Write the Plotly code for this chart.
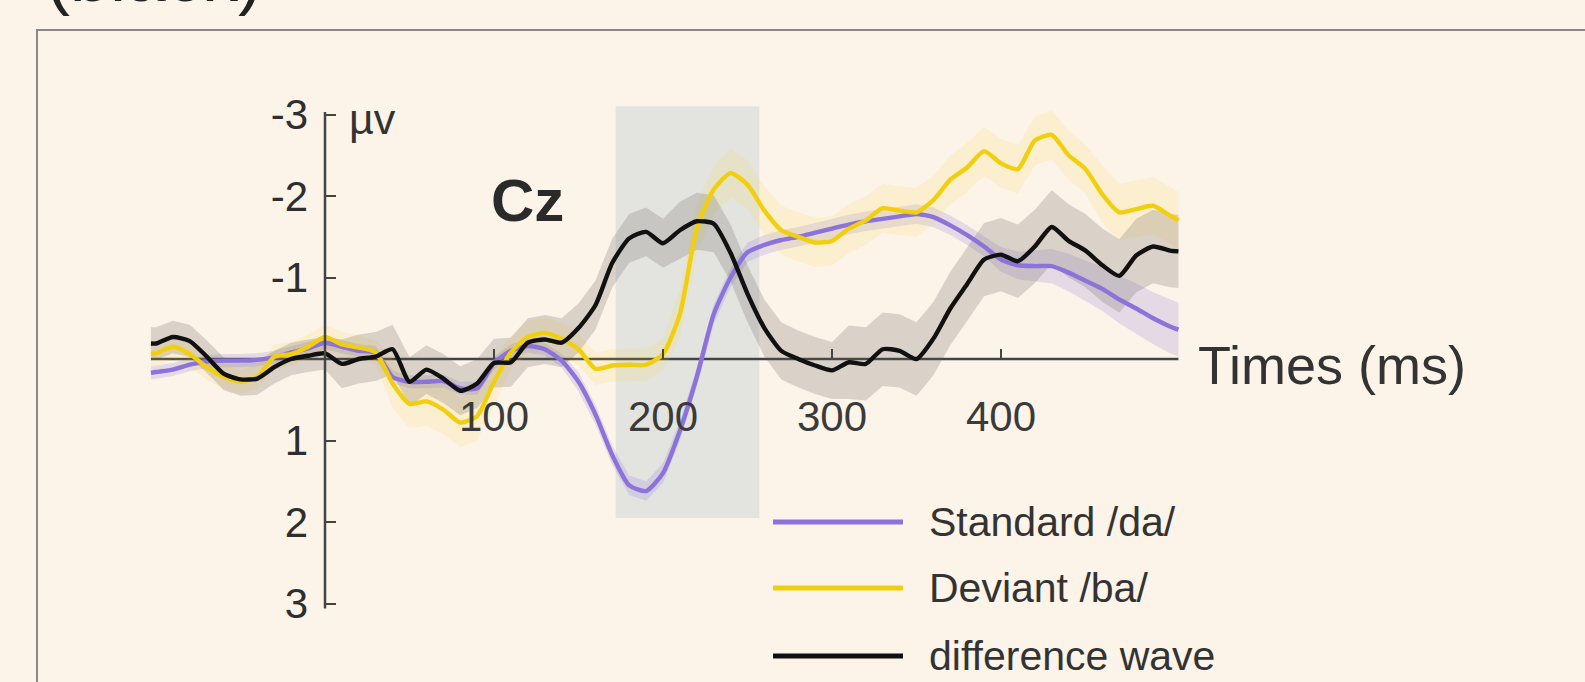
import plotly.graph_objects as go

# ---------------- data ----------------
times = [-103] + list(range(-100, 501, 10)) + [505]  # ms

standard = [0.17,
            0.16, 0.13, 0.07, 0.03, 0.02, 0.02, 0.01, -0.02, -0.08, -0.13,
            -0.20, -0.15, -0.10, -0.08, 0.22, 0.28, 0.28, 0.27, 0.36, 0.36,
            0.05, -0.10, -0.16, -0.12, 0.02, 0.28, 0.68, 1.18, 1.55, 1.62,
            1.40, 0.88, 0.22, -0.55, -1.00, -1.31, -1.40, -1.46, -1.50, -1.55,
            -1.60, -1.65, -1.69, -1.72, -1.75, -1.78, -1.74, -1.64, -1.52, -1.38,
            -1.22, -1.15, -1.14, -1.14, -1.06, -0.96, -0.86, -0.73, -0.62, -0.50,
            -0.40,
            -0.36]

deviant = [-0.06,
           -0.07, -0.15, -0.06, 0.10, 0.22, 0.28, 0.22, -0.03, -0.06, -0.15,
           -0.27, -0.18, -0.14, -0.08, 0.30, 0.55, 0.52, 0.62, 0.78, 0.70,
           0.28, -0.08, -0.27, -0.32, -0.25, -0.12, 0.12, 0.08, 0.07, 0.07,
           -0.06, -0.55, -1.60, -2.08, -2.28, -2.14, -1.82, -1.58, -1.50, -1.43,
           -1.45, -1.60, -1.70, -1.85, -1.82, -1.80, -1.95, -2.20, -2.35, -2.55,
           -2.40, -2.33, -2.68, -2.75, -2.50, -2.33, -2.02, -1.80, -1.84, -1.88,
           -1.76,
           -1.70]

difference = [-0.19,
              -0.19, -0.27, -0.22, -0.03, 0.18, 0.25, 0.24, 0.10, 0.00, -0.04,
              -0.07, 0.06, 0.00, -0.03, -0.12, 0.28, 0.13, 0.24, 0.39, 0.30,
              0.05, 0.04, -0.20, -0.24, -0.20, -0.38, -0.66, -1.18, -1.48, -1.56,
              -1.42, -1.58, -1.69, -1.66, -1.30, -0.80, -0.38, -0.10, 0.00, 0.08,
              0.14, 0.04, 0.06, -0.12, -0.10, 0.00, -0.25, -0.62, -0.92, -1.22,
              -1.28, -1.20, -1.38, -1.62, -1.45, -1.33, -1.15, -1.02, -1.27, -1.38,
              -1.33,
              -1.32]

standard_err = [0.08] * 26 + [0.12] * 25 + [0.15, 0.17, 0.19, 0.21, 0.23, 0.25,
                                             0.27, 0.29, 0.31, 0.32, 0.33, 0.33]
deviant_err = [0.15] * 15 + [0.30] * 7 + [0.20] * 10 + [0.30] * 25 + [0.35] * 6
difference_err = [0.20] * 12 + [0.30] * 20 + [0.35] * 10 + [0.45] * 21

series_names = ["Standard /da/", "Deviant /ba/", "difference wave"]
series_colors = ["#8b73d9", "#f1cf0f", "#111111"]
band_colors = ["rgba(139,115,217,0.20)", "rgba(245,215,40,0.13)", "rgba(95,90,85,0.21)"]

x_ticks = [100, 200, 300, 400]
y_ticks = [-3, -2, -1, 1, 2, 3]
y_tick_text = ["-3", "-2", "-1", "1", "2", "3"]
window_ms = [172, 257]
window_uv = [-3.1, 1.95]

# ---------------- geometry ----------------
W, H = 1585, 682
X0_PX, PX_PER_MS = 325.0, 1.69      # pixel of t=0, pixels per ms
Y0_PX, PX_PER_UV = 359.0, 81.5      # pixel of 0 uV, pixels per uV (positive down)
x_range = [(0 - X0_PX) / PX_PER_MS, (W - X0_PX) / PX_PER_MS]
y_range = [(H - Y0_PX) / PX_PER_UV, (0 - Y0_PX) / PX_PER_UV]  # reversed: negative up

FONT = "Liberation Sans, Arial, Helvetica, sans-serif"
BG = "#fcf3e9"
AX = "#444444"

fig = go.Figure()

series = [standard, deviant, difference]
errs = [standard_err, deviant_err, difference_err]

for vals, err, col in zip(series, errs, band_colors):
    upper = [v - e for v, e in zip(vals, err)]
    lower = [v + e for v, e in zip(vals, err)]
    fig.add_trace(go.Scatter(
        x=times + times[::-1], y=upper + lower[::-1],
        mode="lines", fill="toself", fillcolor=col,
        line=dict(width=0), hoverinfo="skip", showlegend=False))

for vals, col, name in zip(series, series_colors, series_names):
    fig.add_trace(go.Scatter(
        x=times, y=vals, mode="lines", name=name,
        line=dict(color=col, width=4.4, shape="spline", smoothing=0.6),
        showlegend=False))

# highlighted window
fig.add_shape(type="rect", xref="x", yref="y",
              x0=window_ms[0], x1=window_ms[1], y0=window_uv[0], y1=window_uv[1],
              fillcolor="#e3e4e0", line=dict(width=0), layer="below")

# zero (time) axis line and vertical uV axis line
fig.add_shape(type="line", xref="x", yref="y", x0=times[0], x1=times[-1],
              y0=0, y1=0, line=dict(color=AX, width=2.6), layer="below")
fig.add_shape(type="line", xref="x", yref="y", x0=0, x1=0, y0=-3.03, y1=3.06,
              line=dict(color=AX, width=2.5))

# outer frame
fig.add_shape(type="rect", xref="paper", yref="paper",
              x0=37 / W, x1=1.2, y0=1 - 30 / H, y1=-0.2,
              line=dict(color="#8a8784", width=2), fillcolor="rgba(0,0,0,0)")

# legend drawn manually
leg_y_px = [522, 588, 656]
for name, col, py in zip(series_names, series_colors, leg_y_px):
    yp = 1 - py / H
    fig.add_shape(type="line", xref="paper", yref="paper",
                  x0=773 / W, x1=903 / W, y0=yp, y1=yp,
                  line=dict(color=col, width=5))
    fig.add_annotation(xref="paper", yref="paper", x=927 / W, y=yp,
                       xanchor="left", yanchor="middle", text=name, showarrow=False,
                       font=dict(family=FONT, size=41, color="#333333"))

# texts
fig.add_annotation(xref="x", yref="y", x=13, y=-2.94, xanchor="left", yanchor="middle",
                   text="µv", showarrow=False, font=dict(family=FONT, size=43, color="#333333"))
fig.add_annotation(xref="x", yref="y", x=120, y=-1.95, xanchor="center", yanchor="middle",
                   text="<b>Cz</b>", showarrow=False, font=dict(family=FONT, size=60, color="#2a2a2a"))
fig.add_annotation(xref="paper", yref="paper", x=1196 / W, y=1 - 365 / H,
                   xanchor="left", yanchor="middle", text="Times (ms)", showarrow=False,
                   font=dict(family=FONT, size=54, color="#333333"))
fig.add_annotation(xref="paper", yref="paper", x=44 / W, y=1 - 18 / H,
                   xanchor="left", yanchor="bottom", text="(black)", showarrow=False,
                   font=dict(family=FONT, size=72, color="#222222"))

fig.update_layout(
    width=W, height=H,
    margin=dict(l=0, r=0, t=0, b=0),
    paper_bgcolor=BG, plot_bgcolor=BG,
    showlegend=False,
    xaxis=dict(range=x_range, domain=[0, 1], anchor="free", position=1 - Y0_PX / H,
               showgrid=False, zeroline=False, showline=False,
               tickmode="array", tickvals=x_ticks, ticks="inside", ticklen=10,
               tickwidth=1.5, tickcolor=AX, ticklabelstandoff=29,
               tickfont=dict(family=FONT, size=42, color="#3a3a3a")),
    yaxis=dict(range=y_range, domain=[0, 1], anchor="free", position=X0_PX / W,
               showgrid=False, zeroline=False, showline=False,
               tickmode="array", tickvals=y_ticks, ticktext=y_tick_text,
               ticks="inside", ticklen=10, tickwidth=1.5, tickcolor=AX,
               ticklabelstandoff=17,
               tickfont=dict(family=FONT, size=42, color="#2e2e2e")),
)

fig.write_html("out.html",
               config={"displayModeBar": False},
               post_script="document.body.style.margin='0';"
                           "document.body.style.overflow='hidden';"
                           "document.body.style.background='" + BG + "';")
